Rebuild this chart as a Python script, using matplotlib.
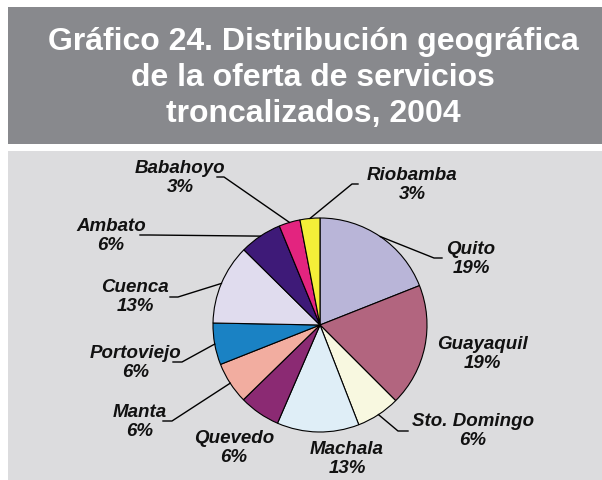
import numpy as np
import matplotlib
matplotlib.use("Agg")
import matplotlib.pyplot as plt
from matplotlib.patches import Rectangle

# data (clockwise from 12 o'clock)
ciudades = ["Quito", "Guayaquil", "Sto. Domingo", "Machala", "Quevedo", "Manta",
            "Portoviejo", "Cuenca", "Ambato", "Babahoyo", "Riobamba"]
shares = [19.0, 18.5, 6.6, 12.4, 6.2, 6.3, 6.3, 12.1, 6.4, 3.2, 3.0]
etiquetas = ["19%", "19%", "6%", "13%", "6%", "6%", "6%", "13%", "6%", "3%", "3%"]

colores = ["#b9b5d8", "#b2657f", "#f8f8e0", "#dfeef7", "#8b2a73", "#f2ada0",
           "#1a82c4", "#e0dcee", "#3e1a78", "#e3247f", "#f4ee38"]

titulo = "Gráfico 24. Distribución geográfica\nde la oferta de servicios\ntroncalizados, 2004"

W, H = 602, 480

def py(y):
    # pixel row (from top) -> data y
    return H - y

# label centres and leader lines in pixel coords: (x, y, elbow, end)
layout = {
    "Quito": (471, 259, (434, 258), (442, 258)),
    "Guayaquil": (482, 354, None, None),
    "Sto. Domingo": (473, 431, (398, 431), (408, 431)),
    "Machala": (347, 459, None, None),
    "Quevedo": (234, 448, None, None),
    "Manta": (140, 422, (172, 421), (163, 421)),
    "Portoviejo": (136, 363, (182, 362), (173, 362)),
    "Cuenca": (135, 297, (178, 297), (170, 297)),
    "Ambato": (111, 236, (150, 235), (140, 235)),
    "Babahoyo": (180, 178, (224, 177), (217, 177)),
    "Riobamba": (412, 185, (352, 184), (358, 184)),
}

cx, cy, radio = 320, 325, 107

fig = plt.figure(figsize=(W / 100, H / 100), dpi=100)
fig.patch.set_facecolor("white")
ax = fig.add_axes([0, 0, 1, 1])

# title box and panel
ax.add_patch(Rectangle((8, py(144)), W - 8, 137, facecolor="#88898d", edgecolor="none", zorder=0))
ax.add_patch(Rectangle((8, 0), W - 8, py(151), facecolor="#dcdcde", edgecolor="none", zorder=0))

ax.text(313, py(78), titulo, ha="center", va="center", color="white",
        fontsize=23, fontweight="bold", family="Liberation Sans", linespacing=1.25)

wedges, _ = ax.pie(shares, colors=colores, startangle=90, counterclock=False,
                   center=(cx, py(cy)), radius=radio, frame=True,
                   wedgeprops=dict(edgecolor="black", linewidth=0.8))
ax.set_xlim(0, W)
ax.set_ylim(0, H)
ax.set_aspect("equal")
ax.axis("off")

for w, nombre, pct in zip(wedges, ciudades, etiquetas):
    tx, ty, elbow, end = layout[nombre]
    ax.text(tx, py(ty), nombre + "\n" + pct, ha="center", va="center",
            fontsize=13.5, fontweight="bold", fontstyle="italic",
            family="Liberation Sans", linespacing=1.2, color="#111111")
    if elbow is not None:
        ang = np.deg2rad((w.theta1 + w.theta2) / 2)
        ex = cx + radio * np.cos(ang)
        ey = py(cy) + radio * np.sin(ang)
        ax.plot([ex, elbow[0], end[0]], [ey, py(elbow[1]), py(end[1])],
                color="black", linewidth=1.0, zorder=5)

fig.savefig("out.png", dpi=100)
